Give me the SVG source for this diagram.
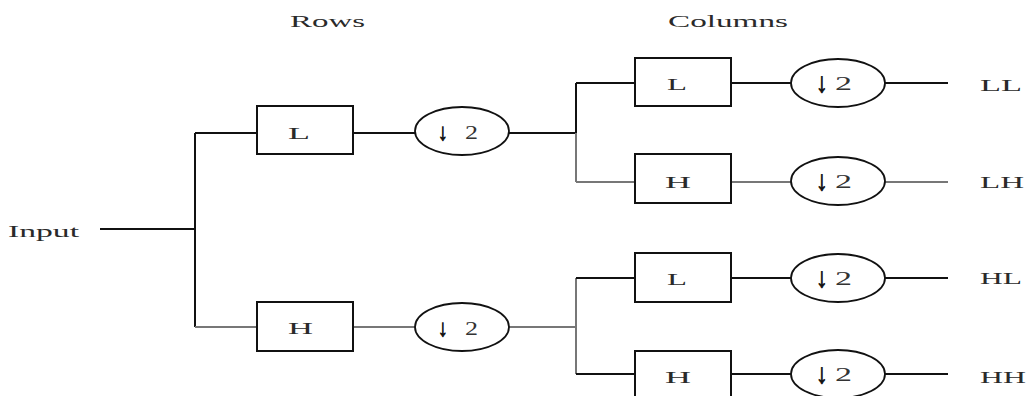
<svg xmlns="http://www.w3.org/2000/svg" width="1030" height="396" viewBox="0 0 1030 396">
<style>
.t{font-family:"Liberation Serif","Times New Roman",serif;font-size:17px;fill:#2a2a2a;}
.box{fill:#fff;stroke:#111;stroke-width:2;}
.dn{fill:#fff;stroke:#111;stroke-width:1.8;}
.c{stroke:#111;stroke-width:2;fill:none;}
.g{stroke:#777;stroke-width:2;fill:none;}
.ar{font-family:"Liberation Serif","DejaVu Serif",serif;font-weight:bold;fill:#111;stroke:#111;stroke-width:0.8;}
.two{font-family:"Liberation Serif","Times New Roman",serif;font-size:18px;fill:#333;}
</style>
<rect width="1030" height="396" fill="#fff"/>
<text class="t" x="290" y="27" textLength="75" lengthAdjust="spacingAndGlyphs">Rows</text>
<text class="t" x="668" y="27" textLength="120" lengthAdjust="spacingAndGlyphs">Columns</text>
<g id="connectors">
<line class="c" x1="100" y1="229" x2="195" y2="229"/>
<line class="c" x1="195" y1="133" x2="195" y2="327"/>
<line class="c" x1="195" y1="133" x2="257" y2="133"/>
<line class="g" x1="195" y1="327" x2="257" y2="327"/>
<line class="c" x1="353" y1="133" x2="415" y2="133"/>
<line class="g" x1="353" y1="327" x2="415" y2="327"/>
<line class="c" x1="509" y1="133" x2="576" y2="133"/>
<line class="g" x1="509" y1="327" x2="576" y2="327"/>
<line class="c" x1="576" y1="83" x2="576" y2="133"/>
<line class="g" x1="576" y1="133" x2="576" y2="182"/>
<line class="g" x1="576" y1="278" x2="576" y2="374"/>
<line class="c" x1="576" y1="83" x2="635" y2="83"/>
<line class="g" x1="576" y1="182" x2="635" y2="182"/>
<line class="c" x1="576" y1="278" x2="635" y2="278"/>
<line class="c" x1="576" y1="374" x2="635" y2="374"/>
<line class="c" x1="731" y1="83" x2="791" y2="83"/>
<line class="g" x1="731" y1="182" x2="791" y2="182"/>
<line class="c" x1="731" y1="278" x2="791" y2="278"/>
<line class="c" x1="731" y1="374" x2="791" y2="374"/>
<line class="c" x1="885" y1="83" x2="948" y2="83"/>
<line class="g" x1="885" y1="182" x2="948" y2="182"/>
<line class="c" x1="885" y1="278" x2="948" y2="278"/>
<line class="c" x1="885" y1="374" x2="948" y2="374"/>
</g>
<g id="input"><text class="t" x="8" y="237" textLength="71" lengthAdjust="spacingAndGlyphs">Input</text></g>
<g id="rowL"><rect class="box" x="257" y="106" width="96" height="48"/><text class="t" x="288" y="139" textLength="22" lengthAdjust="spacingAndGlyphs">L</text></g>
<g id="rowH"><rect class="box" x="257" y="302" width="96" height="49"/><text class="t" x="288" y="334" textLength="25" lengthAdjust="spacingAndGlyphs">H</text></g>
<g id="rowDownL"><ellipse class="dn" cx="462" cy="131" rx="47" ry="24"/><text x="437" y="140"><tspan class="ar" font-size="24" x="438" textLength="10" lengthAdjust="spacingAndGlyphs">↓</tspan><tspan class="two" x="465" textLength="13" lengthAdjust="spacingAndGlyphs" dy="-1">2</tspan></text></g>
<g id="rowDownH"><ellipse class="dn" cx="462" cy="327" rx="47" ry="24"/><text x="437" y="336"><tspan class="ar" font-size="24" x="438" textLength="10" lengthAdjust="spacingAndGlyphs">↓</tspan><tspan class="two" x="465" textLength="13" lengthAdjust="spacingAndGlyphs" dy="-1">2</tspan></text></g>
<g id="colLL"><rect class="box" x="635" y="58" width="96" height="48"/><text class="t" x="667" y="90" textLength="20" lengthAdjust="spacingAndGlyphs">L</text></g>
<g id="colLH"><rect class="box" x="635" y="154" width="96" height="49"/><text class="t" x="665" y="188" textLength="26" lengthAdjust="spacingAndGlyphs">H</text></g>
<g id="colHL"><rect class="box" x="635" y="253" width="96" height="49"/><text class="t" x="667" y="285" textLength="20" lengthAdjust="spacingAndGlyphs">L</text></g>
<g id="colHH"><rect class="box" x="635" y="351" width="96" height="49"/><text class="t" x="665" y="383" textLength="26" lengthAdjust="spacingAndGlyphs">H</text></g>
<g id="downLL"><ellipse class="dn" cx="838" cy="83" rx="47" ry="24"/><text x="815" y="92"><tspan class="ar" font-size="28" x="816" textLength="12" lengthAdjust="spacingAndGlyphs">↓</tspan><tspan class="two" x="835" dy="-2" textLength="17" lengthAdjust="spacingAndGlyphs">2</tspan></text></g>
<g id="downLH"><ellipse class="dn" cx="838" cy="181" rx="47" ry="24"/><text x="815" y="190"><tspan class="ar" font-size="28" x="816" textLength="12" lengthAdjust="spacingAndGlyphs">↓</tspan><tspan class="two" x="835" dy="-2" textLength="17" lengthAdjust="spacingAndGlyphs">2</tspan></text></g>
<g id="downHL"><ellipse class="dn" cx="838" cy="278" rx="47" ry="24"/><text x="815" y="287"><tspan class="ar" font-size="28" x="816" textLength="12" lengthAdjust="spacingAndGlyphs">↓</tspan><tspan class="two" x="835" dy="-2" textLength="17" lengthAdjust="spacingAndGlyphs">2</tspan></text></g>
<g id="downHH"><ellipse class="dn" cx="838" cy="374" rx="47" ry="24"/><text x="815" y="383"><tspan class="ar" font-size="28" x="816" textLength="12" lengthAdjust="spacingAndGlyphs">↓</tspan><tspan class="two" x="835" dy="-2" textLength="17" lengthAdjust="spacingAndGlyphs">2</tspan></text></g>
<g id="outLL"><text class="t" x="980" y="91" textLength="42" lengthAdjust="spacingAndGlyphs">LL</text></g>
<g id="outLH"><text class="t" x="980" y="188" textLength="44" lengthAdjust="spacingAndGlyphs">LH</text></g>
<g id="outHL"><text class="t" x="980" y="284" textLength="42" lengthAdjust="spacingAndGlyphs">HL</text></g>
<g id="outHH"><text class="t" x="980" y="383" textLength="46" lengthAdjust="spacingAndGlyphs">HH</text></g>
</svg>
